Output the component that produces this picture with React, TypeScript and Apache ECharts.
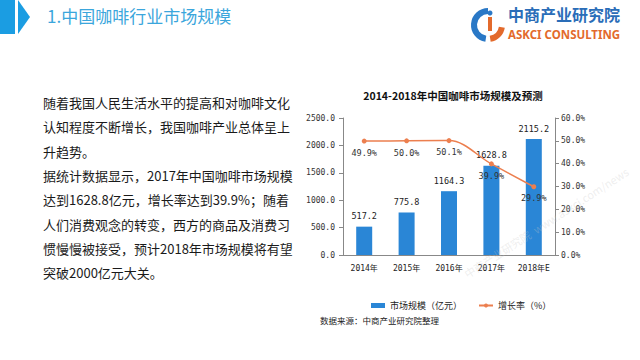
import React, { useEffect, useRef } from "react";
import * as echarts from "echarts";

const categories = ["2014年", "2015年", "2016年", "2017年", "2018年E"];
const marketSize = [517.2, 775.8, 1164.3, 1628.8, 2115.2];
const growthRate = [49.9, 50.0, 50.1, 39.9, 29.9];
const paragraphLines = [
  "随着我国人民生活水平的提高和对咖啡文化",
  "认知程度不断增长，我国咖啡产业总体呈上",
  "升趋势。",
  "据统计数据显示，2017年中国咖啡市场规模",
  "达到1628.8亿元，增长率达到39.9%；随着",
  "人们消费观念的转变，西方的商品及消费习",
  "惯慢慢被接受，预计2018年市场规模将有望",
  "突破2000亿元大关。",
];
const pageTitle = "1.中国咖啡行业市场规模";
const chartTitle = "2014-2018年中国咖啡市场规模及预测";
const sourceText = "数据来源：中商产业研究院整理";
const seriesNames = ["市场规模（亿元）", "增长率（%）"];

const CJK = "'Noto Sans CJK SC', 'Noto Sans', sans-serif";
const MONO = "'DejaVu Sans Mono', 'Noto Sans CJK SC', monospace";

export default function App() {
  const ref = useRef<HTMLDivElement>(null);
  useEffect(() => {
    if (!ref.current) return;
    const chart = echarts.init(ref.current, undefined, { renderer: "svg" });
    const textGraphics: any[] = paragraphLines.map((t, i) => ({
      type: "text",
      left: 43,
      top: 96 + i * 24.3,
      style: { text: t, fill: "#1a1a1a", font: `13px ${CJK}` },
    }));
    chart.setOption({
      animation: false,
      backgroundColor: "#ffffff",
      title: {
        text: chartTitle,
        left: 448,
        top: 85,
        textAlign: "center",
        textStyle: { fontSize: 10.5, fontWeight: "bold", color: "#111", fontFamily: CJK },
      },
      grid: { left: 343, right: 85, top: 118, bottom: 105 },
      legend: {
        left: 366,
        top: 296,
        itemGap: 16,
        itemWidth: 14,
        itemHeight: 5,
        textStyle: { fontSize: 9, color: "#222", fontFamily: CJK },
        data: [
          { name: seriesNames[0], icon: "rect" },
          { name: seriesNames[1] },
        ],
      },
      xAxis: {
        type: "category",
        data: categories,
        axisLine: { lineStyle: { color: "#888" } },
        axisTick: { show: false },
        axisLabel: { interval: 0, fontSize: 8, color: "#222", fontFamily: MONO, margin: 9 },
      },
      yAxis: [
        {
          type: "value",
          min: 0,
          max: 2500,
          interval: 500,
          axisLine: { show: true, lineStyle: { color: "#888" } },
          axisTick: { show: true, length: 4, lineStyle: { color: "#888" } },
          splitLine: { show: false },
          axisLabel: {
            fontSize: 8,
            color: "#333",
            fontFamily: MONO,
            margin: 8,
            formatter: (v: number) => v.toFixed(1),
          },
        },
        {
          type: "value",
          min: 0,
          max: 60,
          interval: 10,
          position: "right",
          axisLine: { show: true, lineStyle: { color: "#888" } },
          axisTick: { show: true, length: 4, lineStyle: { color: "#888" } },
          splitLine: { show: false },
          axisLabel: {
            fontSize: 8,
            color: "#333",
            fontFamily: MONO,
            margin: 6,
            formatter: (v: number) => v.toFixed(1) + "%",
          },
        },
      ],
      series: [
        {
          name: seriesNames[0],
          type: "bar",
          data: marketSize,
          barWidth: 16,
          itemStyle: { color: "#2a86d6" },
          label: {
            show: true,
            position: "top",
            distance: 6,
            fontSize: 8.5,
            color: "#222",
            fontFamily: MONO,
            formatter: (p: any) => Number(p.value).toFixed(1),
          },
        },
        {
          name: seriesNames[1],
          type: "line",
          yAxisIndex: 1,
          data: growthRate,
          smooth: 0.35,
          symbol: "circle",
          symbolSize: 5,
          lineStyle: { color: "#ec7f4f", width: 1.5 },
          itemStyle: { color: "#ec7f4f" },
          label: {
            show: true,
            position: "bottom",
            distance: 5,
            fontSize: 8.5,
            color: "#333",
            fontFamily: MONO,
            formatter: (p: any) => Number(p.value).toFixed(1) + "%",
          },
          z: 3,
        },
      ],
      graphic: [
        { type: "rect", shape: { x: 0, y: 0, width: 15, height: 34 }, style: { fill: "#1b9de2" } },
        {
          type: "polygon",
          shape: { points: [[18, 0], [30, 17], [18, 34]] },
          style: { fill: "#1b9de2" },
        },
        {
          type: "text",
          left: 47,
          top: 7,
          style: { text: pageTitle, fill: "#3ba6dc", font: `17px ${CJK}` },
        },
        {
          type: "sector",
          shape: { cx: 488, cy: 25, r: 17, r0: 11, startAngle: Math.PI * 0.55, endAngle: Math.PI * 1.5 },
          style: { fill: "#2a78c6" },
        },
        {
          type: "sector",
          shape: { cx: 488, cy: 25, r: 17, r0: 11, startAngle: Math.PI * 0.05, endAngle: Math.PI * 0.45 },
          style: { fill: "#e36a2c" },
        },
        { type: "circle", shape: { cx: 490, cy: 13, r: 2.5 }, style: { fill: "#2a78c6" } },
        { type: "rect", shape: { x: 488, y: 17, width: 4, height: 14 }, style: { fill: "#e36a2c" } },
        {
          type: "text",
          left: 508,
          top: 6,
          style: { text: "中商产业研究院", fill: "#2a6db8", font: `bold 16px ${CJK}`, lineHeight: 16 },
        },
        {
          type: "text",
          left: 508,
          top: 28.5,
          style: { text: "ASKCI CONSULTING", fill: "#e36a2c", font: `bold 11.5px 'Noto Sans', sans-serif`, lineHeight: 12 },
        },
        ...textGraphics,
        {
          type: "text",
          left: 320,
          top: 316,
          style: { text: sourceText, fill: "#222", font: `8.5px ${CJK}` },
        },
        {
          type: "text",
          x: 462,
          y: 270,
          rotation: Math.PI / 5.5,
          silent: true,
          style: { text: "中商产业研究院  www.askci.com/news", fill: "rgba(200,200,200,0.3)", font: `11px ${CJK}` },
          z: 10,
        },
      ],
    });
    return () => chart.dispose();
  }, []);
  return (
    <div
      ref={ref}
      style={{ position: "fixed", left: 0, top: 0, width: 640, height: 360 }}
    />
  );
}
